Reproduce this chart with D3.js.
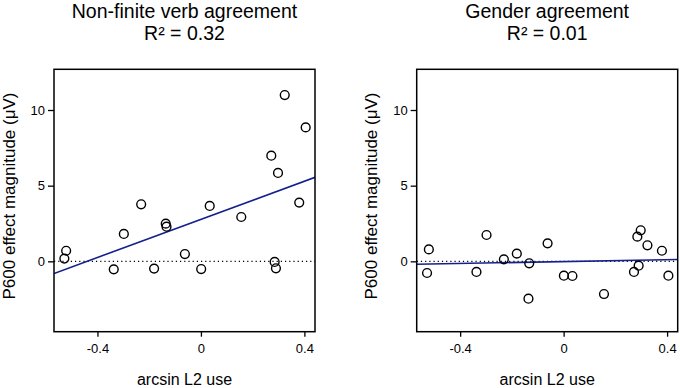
<!DOCTYPE html>
<html>
<head>
<meta charset="utf-8">
<script src="https://cdn.jsdelivr.net/npm/d3@7"></script>
<style>
  body { margin: 0; background: #fff; }
  .tick text { font-family: "Liberation Sans", Arial, sans-serif; font-size: 13px; fill: #000; }
  .tick line { stroke: #000; stroke-width: 1.3; }
  .domain { display: none; }
</style>
</head>
<body>
<div id="chart"></div>
<script>
// Shared predictor (arcsin L2 use), one value per participant
var l2Use = [-0.528, -0.521, -0.337, -0.298, -0.231, -0.181, -0.136, -0.133, -0.062, 0.001,
             0.034, 0.156, 0.272, 0.285, 0.290, 0.298, 0.324, 0.380, 0.405];

// P600 effect magnitudes per condition
var verbP600 = [0.18, 0.70, -0.53, 1.81, 3.77, -0.48, 2.49, 2.29, 0.48, -0.51,
                3.66, 2.93, 6.98, -0.04, -0.46, 5.84, 10.99, 3.88, 8.85];
var genderP600 = [-0.77, 0.79, -0.70, 1.74, 0.13, 0.51, -2.47, -0.13, 1.19, -0.95,
                  -0.97, -2.16, -0.70, 1.63, -0.29, 2.05, 1.06, 0.70, -0.95];

var panelTitles = ["Non-finite verb agreement", "Gender agreement"];
var panelR2 = ["R\u00b2 = 0.32", "R\u00b2 = 0.01"];
var xTicks = [-0.4, 0, 0.4];
var yTicks = [0, 5, 10];

var W = 680, H = 388;
var panelLeft = [54, 416.7];
var plotW = 261, plotTop = 69.3, plotBottom = 331.7;

var svg = d3.select("#chart").append("svg")
  .attr("width", W).attr("height", H);

// least squares fit
function fit(xs, ys) {
  var mx = d3.mean(xs), my = d3.mean(ys);
  var sxy = d3.sum(xs, function (d, i) { return (d - mx) * (ys[i] - my); });
  var sxx = d3.sum(xs, function (d) { return (d - mx) * (d - mx); });
  var b = sxy / sxx;
  return { a: my - b * mx, b: b };
}

function drawPanel(i, ys) {
  var x0 = panelLeft[i];
  var x = d3.scaleLinear().domain([-0.568, 0.441]).range([x0, x0 + plotW]);
  var y = d3.scaleLinear().domain([-4.65, 12.69]).range([plotBottom, plotTop]);
  var g = svg.append("g");
  var cx = x0 + plotW / 2;

  // titles
  g.append("text").attr("x", cx).attr("y", 17.5)
    .attr("text-anchor", "middle")
    .style("font-family", "Liberation Sans, Arial, sans-serif")
    .style("font-size", "19.5px")
    .text(panelTitles[i]);
  g.append("text").attr("x", cx).attr("y", 40)
    .attr("text-anchor", "middle")
    .style("font-family", "Liberation Sans, Arial, sans-serif")
    .style("font-size", "19.5px")
    .text(panelR2[i]);

  // axes
  g.append("g").attr("transform", "translate(0," + plotBottom + ")")
    .call(d3.axisBottom(x).tickValues(xTicks).tickSize(5).tickPadding(7)
      .tickFormat(function (d) { return d === 0 ? "0" : (d < 0 ? "-" : "") + Math.abs(d).toFixed(1); }));
  g.append("g").attr("transform", "translate(" + x0 + ",0)")
    .call(d3.axisLeft(y).tickValues(yTicks).tickSize(6).tickPadding(3));

  // axis labels
  g.append("text").attr("x", cx).attr("y", 385)
    .attr("text-anchor", "middle")
    .style("font-family", "Liberation Sans, Arial, sans-serif")
    .style("font-size", "16px")
    .text("arcsin L2 use");
  g.append("text")
    .attr("transform", "translate(" + (x0 - 39.5) + ",196) rotate(-90)")
    .attr("text-anchor", "middle")
    .style("font-family", "Liberation Sans, Arial, sans-serif")
    .style("font-size", "17px")
    .text("P600 effect magnitude (\u03bcV)");

  // clip
  var clipId = "clip" + i;
  svg.append("clipPath").attr("id", clipId).append("rect")
    .attr("x", x0).attr("y", plotTop).attr("width", plotW).attr("height", plotBottom - plotTop);
  var inner = g.append("g").attr("clip-path", "url(#" + clipId + ")");

  // zero reference line
  inner.append("line")
    .attr("x1", x.range()[0]).attr("x2", x.range()[1])
    .attr("y1", y(0)).attr("y2", y(0))
    .attr("stroke", "#000").attr("stroke-width", 1.3)
    .attr("stroke-dasharray", "1.2,3");

  // regression line
  var f = fit(l2Use, ys);
  var xd = x.domain();
  inner.append("line")
    .attr("x1", x(xd[0])).attr("x2", x(xd[1]))
    .attr("y1", y(f.a + f.b * xd[0])).attr("y2", y(f.a + f.b * xd[1]))
    .attr("stroke", "#15208e").attr("stroke-width", 1.6);

  // points
  inner.selectAll("circle").data(ys).enter().append("circle")
    .attr("cx", function (d, j) { return x(l2Use[j]); })
    .attr("cy", function (d) { return y(d); })
    .attr("r", 4.4)
    .attr("fill", "none")
    .attr("stroke", "#000")
    .attr("stroke-width", 1.4);

  // box
  g.append("rect")
    .attr("x", x0).attr("y", plotTop).attr("width", plotW).attr("height", plotBottom - plotTop)
    .attr("fill", "none").attr("stroke", "#000").attr("stroke-width", 1.5);
}

drawPanel(0, verbP600);
drawPanel(1, genderP600);
</script>
</body>
</html>
